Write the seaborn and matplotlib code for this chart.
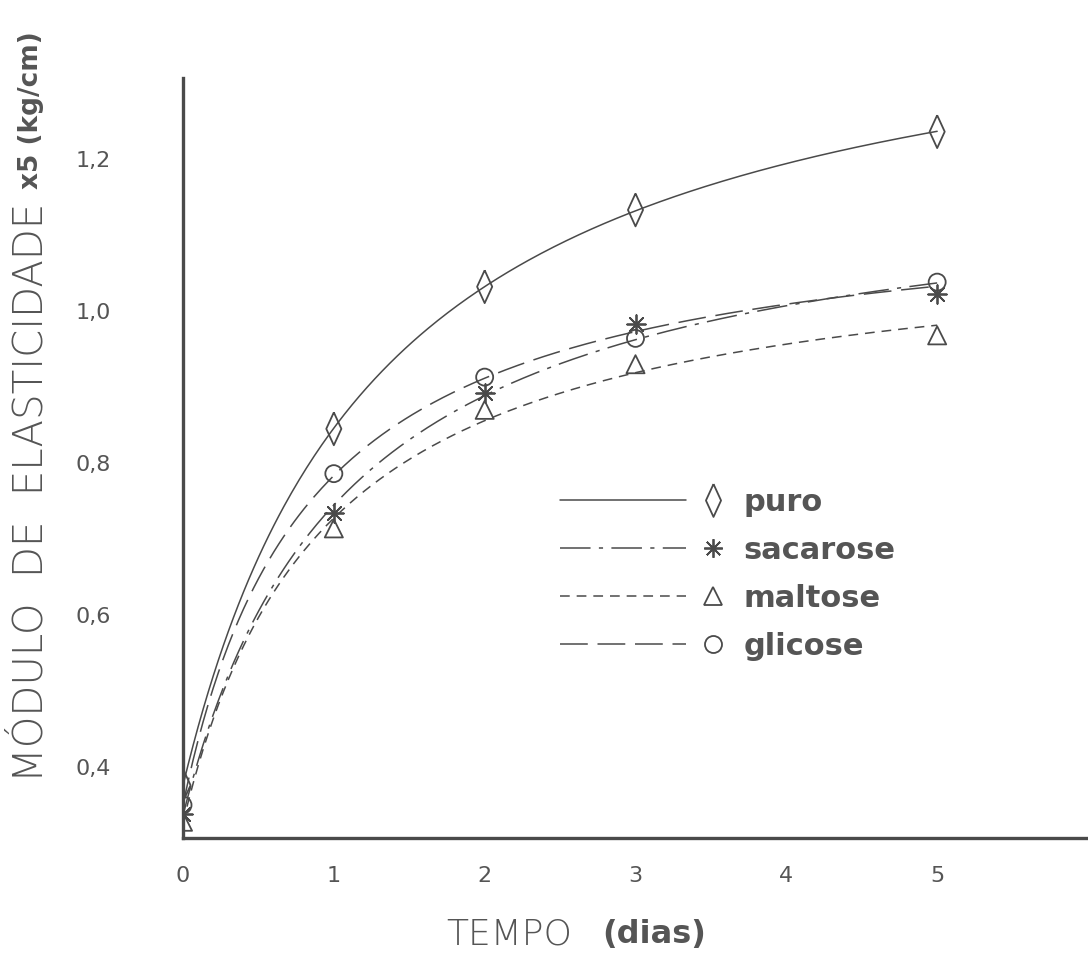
import numpy as np
import pandas as pd
import matplotlib
matplotlib.use("Agg")
import matplotlib.pyplot as plt
import seaborn as sns
from matplotlib.lines import Line2D
from matplotlib.legend_handler import HandlerBase

# Elasticity modulus (x5, kg/cm) measured over storage time (days)
dias = [0, 1, 2, 3, 5]
puro = [0.376, 0.845, 1.032, 1.133, 1.236]
sacarose = [0.338, 0.734, 0.892, 0.983, 1.022]
maltose = [0.328, 0.714, 0.870, 0.930, 0.968]
glicose = [0.350, 0.786, 0.913, 0.964, 1.038]
series_names = ["puro", "sacarose", "maltose", "glicose"]

x_ticks = [0, 1, 2, 3, 4, 5]
x_ticklabels = ["0", "1", "2", "3", "4", "5"]
y_ticks = [0.4, 0.6, 0.8, 1.0, 1.2]
y_ticklabels = ["0,4", "0,6", "0,8", "1,0", "1,2"]

INK = "#4a4a4a"
TEXT = "#555555"

sns.set_theme(style="white")
plt.rcParams["lines.scale_dashes"] = False
plt.rcParams["font.family"] = ["DejaVu Sans"]

values = {"puro": puro, "sacarose": sacarose, "maltose": maltose, "glicose": glicose}
df = pd.DataFrame(
    [(d, v, name) for name in series_names for d, v in zip(dias, values[name])],
    columns=["dias", "modulo", "serie"],
)

# saturation fit y = y0 + A*t/(K+t) for each series, used for the smooth curves
def fit_curve(t, y):
    t = np.asarray(t, float)
    y = np.asarray(y, float)
    best = None
    for K in np.linspace(0.2, 6.0, 581):
        X = np.column_stack([np.ones_like(t), t / (K + t)])
        coef, *_ = np.linalg.lstsq(X, y, rcond=None)
        err = np.sum((X @ coef - y) ** 2)
        if best is None or err < best[0]:
            best = (err, K, coef)
    _, K, (y0, A) = best
    return lambda tt: y0 + A * tt / (K + tt)

t_grid = np.linspace(0, 5, 300)
curve_rows = []
for name in series_names:
    f = fit_curve(dias, values[name])
    for tt, yy in zip(t_grid, f(t_grid)):
        curve_rows.append((tt, yy, name))
curves = pd.DataFrame(curve_rows, columns=["dias", "modulo", "serie"])

diamond = [(0, 1), (0.46, 0), (0, -1), (-0.46, 0), (0, 1)]
markers = {"puro": diamond, "sacarose": (8, 2, 0), "maltose": "^", "glicose": "o"}
sizes = {"puro": 560, "sacarose": 180, "maltose": 170, "glicose": 150}
dashes = {"puro": "", "sacarose": (22, 6, 3, 6), "maltose": (7, 5), "glicose": (20, 7)}
LW = 1.1
MEW = 1.3

fig = plt.figure(figsize=(10.88, 9.59), dpi=100)
ax = fig.add_axes([183 / 1088, 1 - 838 / 959, 1 - 183 / 1088, (838 - 78) / 959])

sns.lineplot(data=curves, x="dias", y="modulo", style="serie", dashes=dashes,
             color=INK, linewidth=LW, legend=False, ax=ax, estimator=None)

for name in series_names:
    sub = df[df["serie"] == name]
    if name == "sacarose":
        # asterisk is a line-art marker: it takes its stroke from the colour
        sns.scatterplot(data=sub, x="dias", y="modulo", marker=markers[name],
                        s=sizes[name], color=INK, linewidth=MEW,
                        legend=False, ax=ax, zorder=3)
    else:
        sns.scatterplot(data=sub, x="dias", y="modulo", marker=markers[name],
                        s=sizes[name], facecolor="none", edgecolor=INK,
                        linewidth=MEW, legend=False, ax=ax, zorder=3)

ax.set_xlim(0, 6.0)
ax.set_ylim(0.3066, 1.3066)
ax.set_xticks(x_ticks)
ax.set_xticklabels(x_ticklabels)
ax.set_yticks(y_ticks)
ax.set_yticklabels(y_ticklabels)
ax.tick_params(axis="x", direction="out", length=8, width=1, color=INK,
               pad=12, labelsize=16, labelcolor=TEXT)
ax.tick_params(axis="y", direction="out", length=6, width=1, color=INK,
               pad=46, labelsize=16, labelcolor=TEXT)

sns.despine(ax=ax)
for side in ("left", "bottom"):
    ax.spines[side].set_linewidth(2.4)
    ax.spines[side].set_color(INK)
ax.spines["bottom"].set_clip_on(False)

# axis titles: light part followed by a bold part
ylab = ax.set_ylabel("MÓDULO  DE  ELASTICIDADE", fontsize=29, fontweight="light",
                     color=TEXT)
ax.yaxis.set_label_coords(-0.146, 0.455)
ax.annotate("x5 (kg/cm)", xy=(0.5, 1.0), xycoords=ylab, xytext=(0, 10),
            textcoords="offset points", rotation=90, ha="center", va="bottom",
            fontsize=19, fontweight="bold", color=TEXT)

xlab = ax.set_xlabel("TEMPO", fontsize=26, fontweight="light", color=TEXT)
ax.xaxis.set_label_coords(0.36, -0.105)
ax.annotate("(dias)", xy=(1.0, 0.5), xycoords=xlab, xytext=(22, 0),
            textcoords="offset points", ha="left", va="center",
            fontsize=23, fontweight="bold", color=TEXT)


class LineThenMarker(HandlerBase):
    """Legend key: a line segment followed by the marker on its right."""

    def create_artists(self, legend, orig, xdescent, ydescent, width, height,
                       fontsize, trans):
        y = height / 2 - ydescent
        seg = Line2D([-xdescent, -xdescent + 0.75 * width], [y, y])
        seg.update_from(orig)
        seg.set_marker("None")
        mk = Line2D([-xdescent + 0.91 * width], [y])
        mk.update_from(orig)
        mk.set_linestyle("None")
        seg.set_transform(trans)
        mk.set_transform(trans)
        return [seg, mk]


handles = []
for name in series_names:
    ms = np.sqrt(sizes[name])
    style = dict(linestyle="--", dashes=dashes[name]) if dashes[name] else dict(linestyle="-")
    face = INK if name == "sacarose" else "none"
    handles.append(Line2D([], [], color=INK, lw=LW, marker=markers[name],
                          markersize=ms, markerfacecolor=face,
                          markeredgecolor=INK, markeredgewidth=MEW, **style))

leg = ax.legend(handles, series_names, loc="upper left",
                bbox_to_anchor=((560 - 183) / 905, (838 - 488) / 760),
                frameon=False, borderpad=0, borderaxespad=0,
                handlelength=5.5, handletextpad=0.5, labelspacing=0.62,
                handler_map={Line2D: LineThenMarker()},
                prop={"size": 22, "weight": "bold"})
for txt in leg.get_texts():
    txt.set_color(TEXT)

fig.savefig("out.png", dpi=100)
